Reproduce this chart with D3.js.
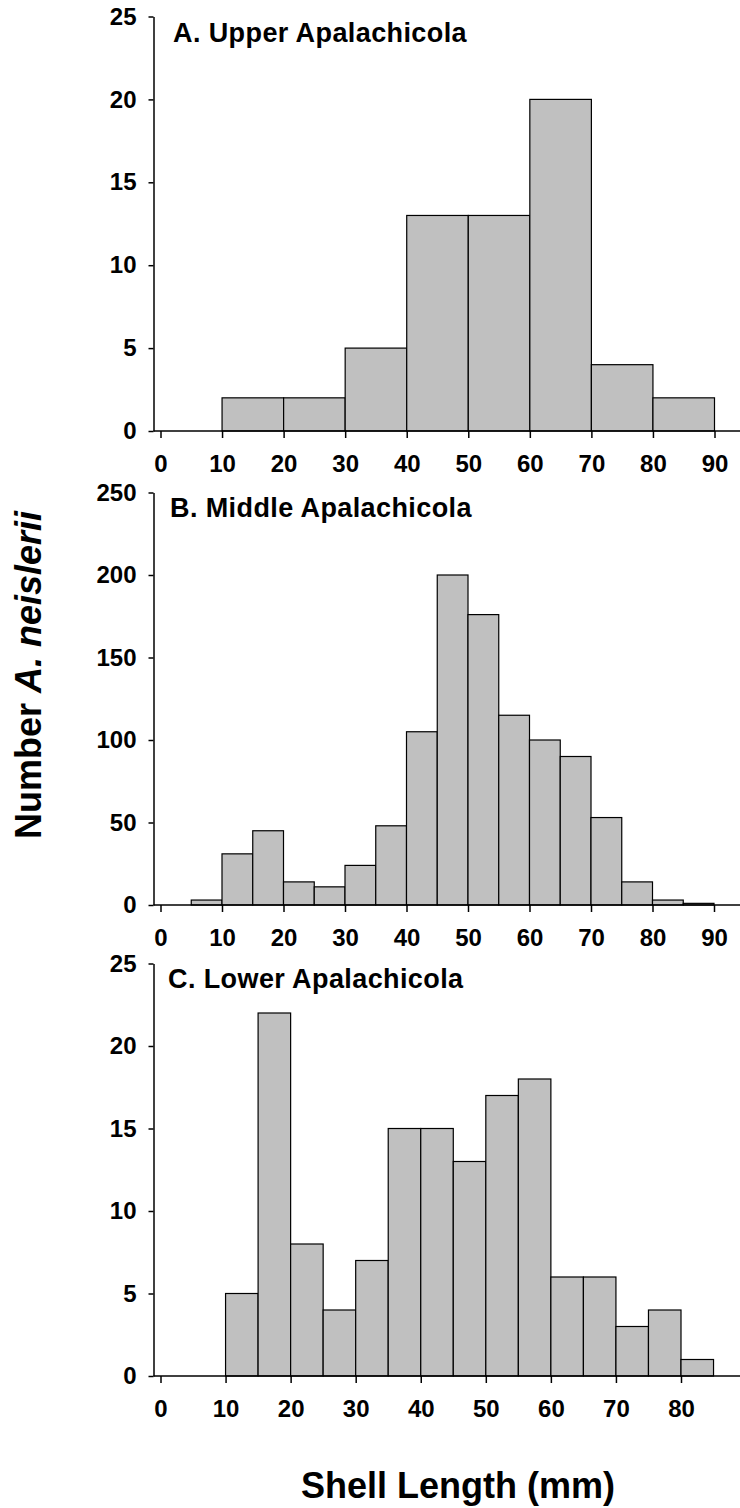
<!DOCTYPE html>
<html>
<head>
<meta charset="utf-8">
<script src="https://cdn.jsdelivr.net/npm/d3@7"></script>
<style>
  body { margin: 0; background: #fff; }
  text { font-family: "Liberation Sans", Arial, sans-serif; font-weight: bold; fill: #000; }
</style>
</head>
<body>
<svg id="chart" width="740" height="1508"></svg>
<script>
// A. Upper Apalachicola (10 mm bins)
var binsA = [10, 20, 30, 40, 50, 60, 70, 80]
var countsA = [2, 2, 5, 13, 13, 20, 4, 2]

// B. Middle Apalachicola (5 mm bins)
var binsB = [5, 10, 15, 20, 25, 30, 35, 40, 45, 50, 55, 60, 65, 70, 75, 80, 85]
var countsB = [3, 31, 45, 14, 11, 24, 48, 105, 200, 176, 115, 100, 90, 53, 14, 3, 1]

// C. Lower Apalachicola (5 mm bins)
var binsC = [10, 15, 20, 25, 30, 35, 40, 45, 50, 55, 60, 65, 70, 75, 80]
var countsC = [5, 22, 8, 4, 7, 15, 15, 13, 17, 18, 6, 6, 3, 4, 1]

var yTicksA = [0, 5, 10, 15, 20, 25]
var yTicksB = [0, 50, 100, 150, 200, 250]
var yTicksC = [0, 5, 10, 15, 20, 25]
var xTicksAB = [0, 10, 20, 30, 40, 50, 60, 70, 80, 90]
var xTicksC = [0, 10, 20, 30, 40, 50, 60, 70, 80]

var panels = [
  {title: "A. Upper Apalachicola", bins: binsA, counts: countsA, step: 10,
   yTicks: yTicksA, xTicks: xTicksAB, xEnd: 714.5, top: 16.5, base: 431, titleX: 173, titleY: 42},
  {title: "B. Middle Apalachicola", bins: binsB, counts: countsB, step: 5,
   yTicks: yTicksB, xTicks: xTicksAB, xEnd: 714, top: 492.5, base: 905, titleX: 170, titleY: 517},
  {title: "C. Lower Apalachicola", bins: binsC, counts: countsC, step: 5,
   yTicks: yTicksC, xTicks: xTicksC, xEnd: 681, top: 963.5, base: 1376, titleX: 168, titleY: 988}
]

var svg = d3.select("#chart")
var axisX0 = 153.5

panels.forEach(function(p) {
  var xMax = d3.max(p.xTicks)
  var scaleX = d3.scaleLinear().domain([0, xMax]).range([160.5, p.xEnd])
  var scaleY = d3.scaleLinear().domain([0, d3.max(p.yTicks)]).range([p.base, p.top])

  var g = svg.append("g")

  var data = p.bins.map(function(b, i) { return {x0: b, x1: b + p.step, n: p.counts[i]} })

  g.selectAll("rect")
    .data(data).enter()
    .append("rect")
    .attr("x", d => scaleX(d.x0))
    .attr("width", d => scaleX(d.x1) - scaleX(d.x0))
    .attr("y", d => scaleY(d.n))
    .attr("height", d => scaleY(0) - scaleY(d.n))
    .attr("fill", "#c0c0c0")
    .attr("stroke", "#000")
    .attr("stroke-width", 1.2)

  var axisY = d3.axisLeft(scaleY).tickValues(p.yTicks).tickSize(5).tickSizeOuter(0).tickPadding(12)
  var gy = g.append("g").attr("transform", "translate(" + axisX0 + ",0)").call(axisY)
  gy.selectAll("text").style("font-size", "24px")

  var axisX = d3.axisBottom(scaleX).tickValues(p.xTicks).tickSize(7).tickSizeOuter(0).tickPadding(17)
  var gx = g.append("g").attr("transform", "translate(0," + p.base + ")").call(axisX)
  gx.select(".domain").remove()
  gx.selectAll("text").style("font-size", "24px")
  gx.append("line")
    .attr("x1", axisX0).attr("x2", 740)
    .attr("stroke", "#000").attr("stroke-width", 1.5)

  svg.selectAll(".tick line").attr("stroke-width", 1.5)
  svg.selectAll(".domain").attr("stroke-width", 1.5)

  g.append("text")
    .attr("x", p.titleX)
    .attr("y", p.titleY)
    .style("font-size", "27px")
    .style("letter-spacing", "0.4px")
    .text(p.title)
})

// y axis title
var yt = svg.append("text")
  .attr("transform", "translate(41,675) rotate(-90)")
  .attr("text-anchor", "middle")
  .style("font-size", "36px")
yt.append("tspan").text("Number ")
yt.append("tspan").style("font-style", "italic").text("A. neislerii")

// x axis title
svg.append("text")
  .attr("x", 458)
  .attr("y", 1498)
  .attr("text-anchor", "middle")
  .style("font-size", "36px")
  .text("Shell Length (mm)")
</script>
</body>
</html>
